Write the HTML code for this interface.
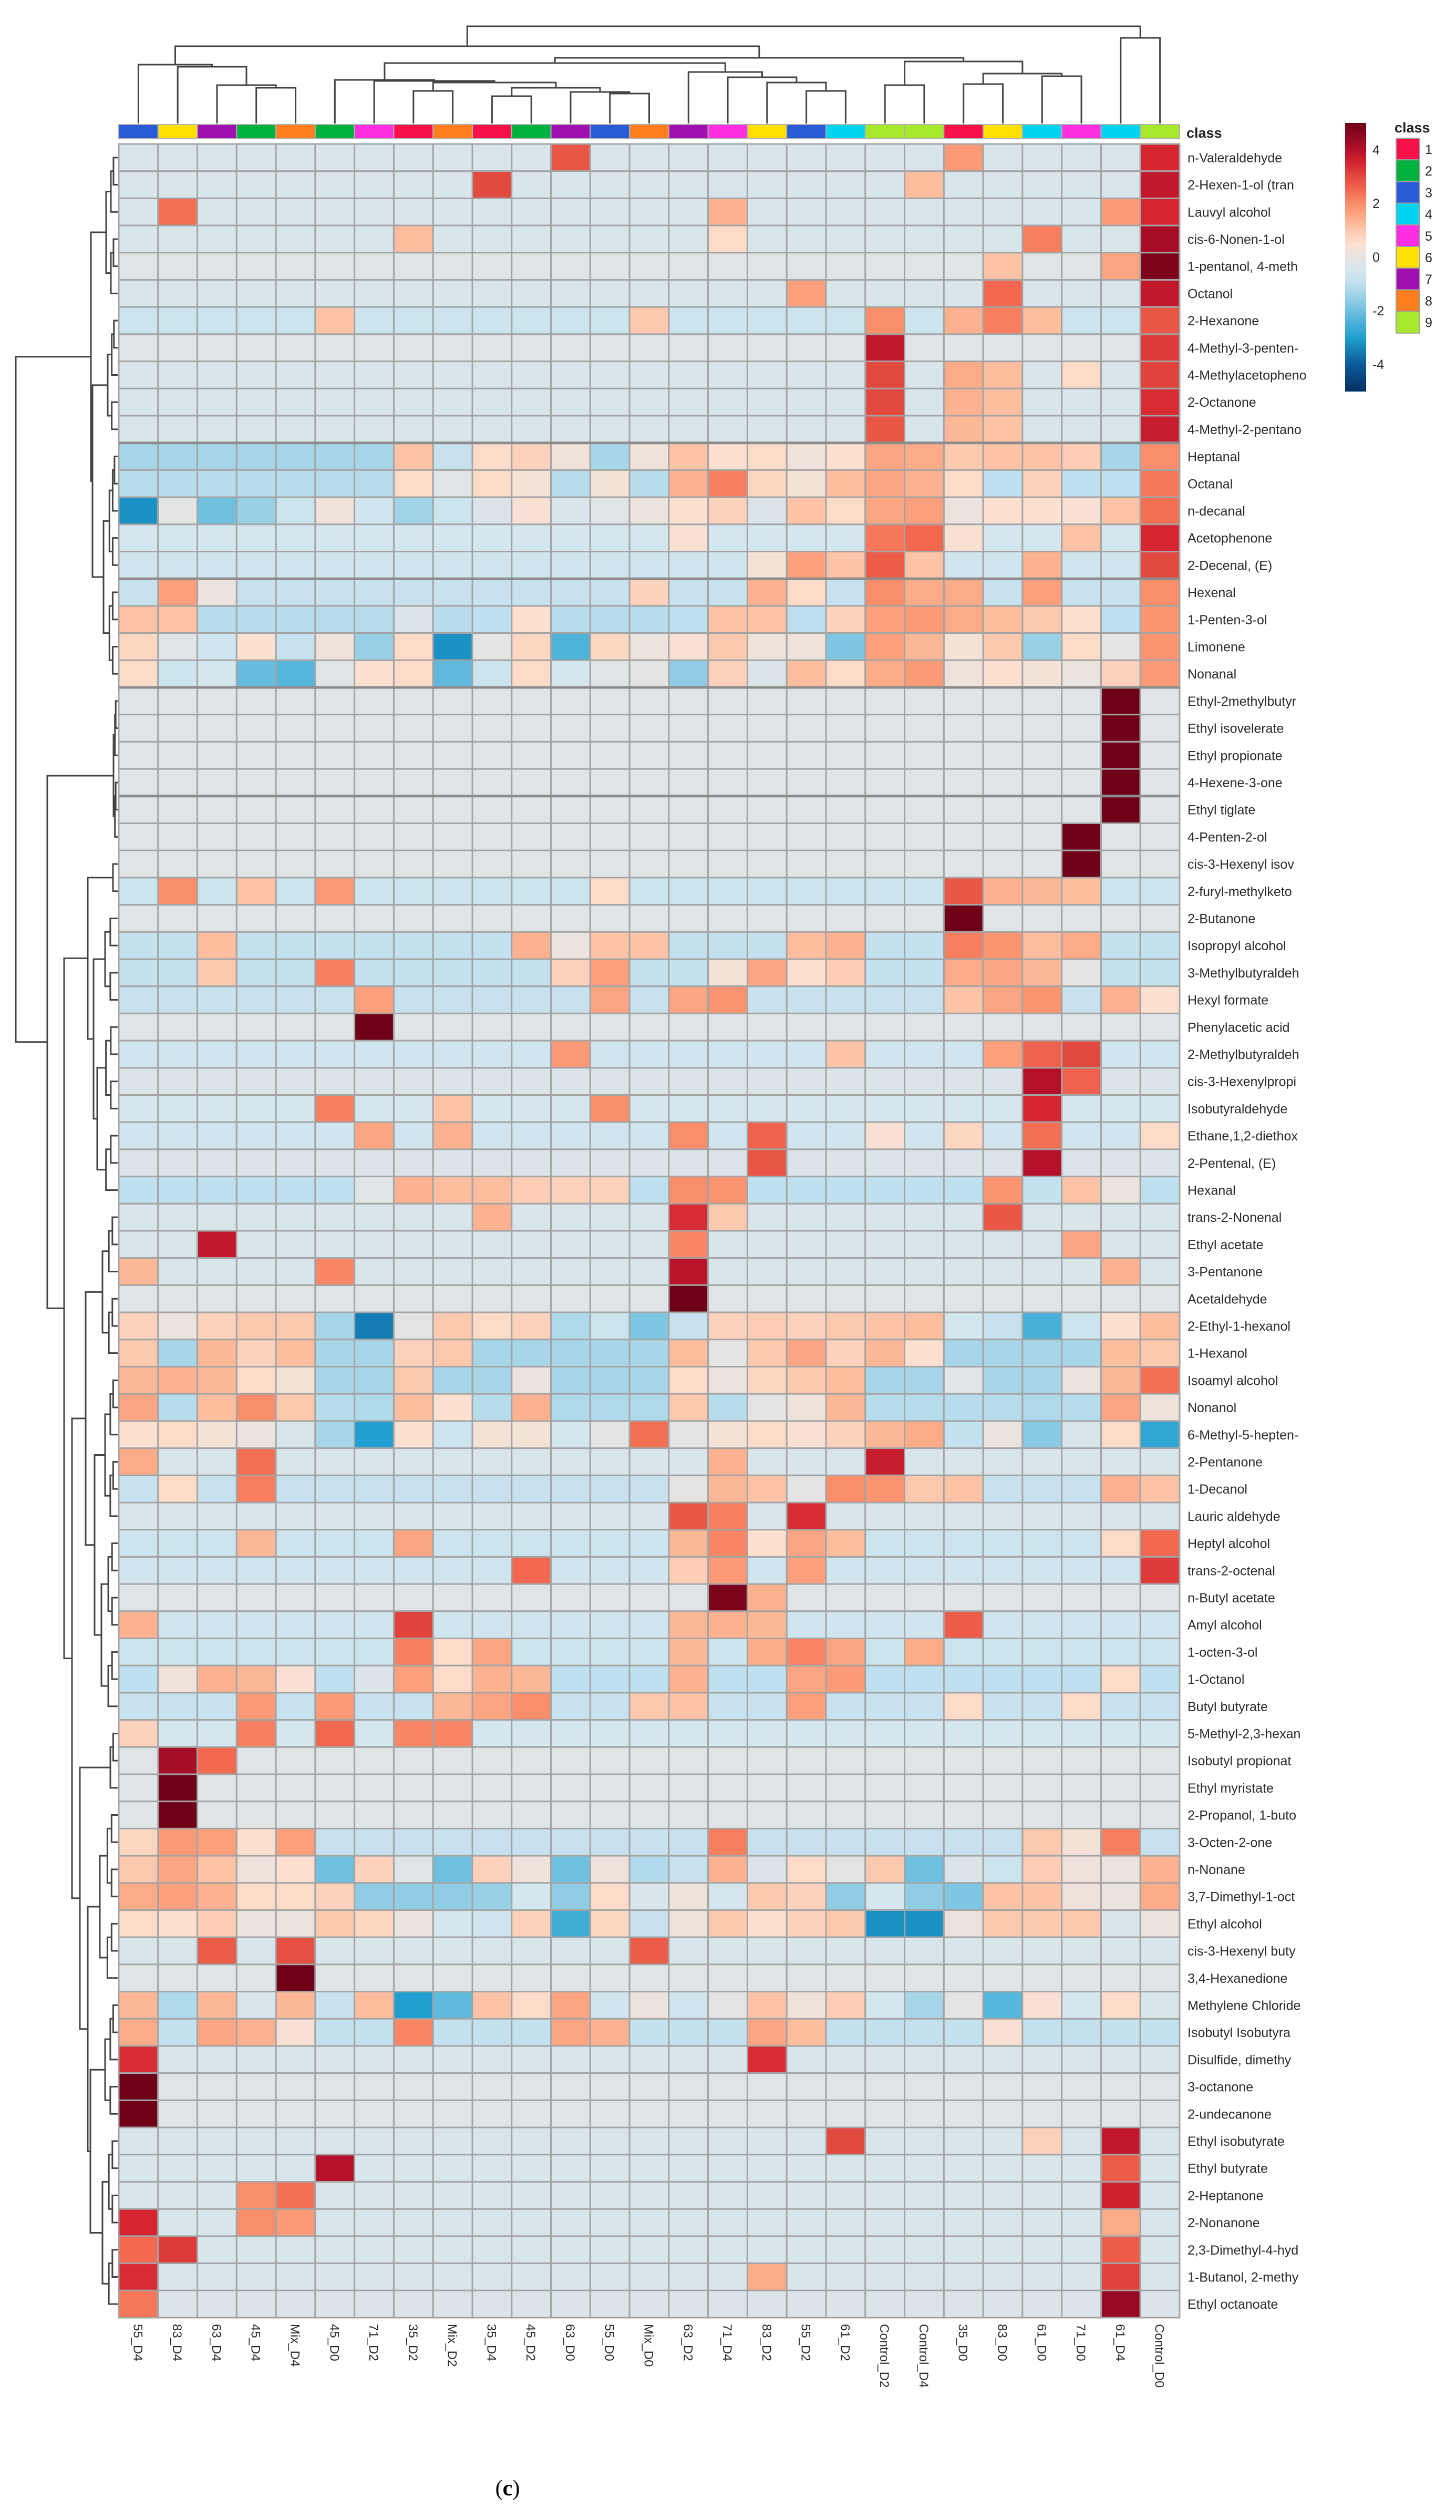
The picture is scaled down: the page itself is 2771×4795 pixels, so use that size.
<!DOCTYPE html>
<html><head><meta charset="utf-8"><title>Heatmap</title>
<style>html,body{margin:0;padding:0;background:#fff}svg{display:block}</style></head>
<body>
<svg id="chart" xmlns="http://www.w3.org/2000/svg" width="2771" height="4795" viewBox="0 0 2771 4795" font-family="Liberation Sans, sans-serif">
<defs><linearGradient id="cbar" x1="0" y1="0" x2="0" y2="1"></linearGradient></defs>
<g id="dendro-top"></g>
<g id="dendro-left"></g>
<g id="classbar"></g>
<g id="cells"></g>
<g id="rowlabels"></g>
<g id="collabels"></g>
<g id="legend"></g>
<text x="966" y="4748" font-family="Liberation Serif, serif" font-size="42" text-anchor="middle">(<tspan font-weight="bold">c</tspan>)</text>
</svg>
<script>
const columns = ["55_D4","83_D4","63_D4","45_D4","Mix_D4","45_D0","71_D2","35_D2","Mix_D2","35_D4","45_D2","63_D0","55_D0","Mix_D0","63_D2","71_D4","83_D2","55_D2","61_D2","Control_D2","Control_D4","35_D0","83_D0","61_D0","71_D0","61_D4","Control_D0"];
const columnClasses = [3,6,7,2,8,2,5,1,8,1,2,7,3,8,7,5,6,3,4,9,9,1,6,4,5,4,9];
const classColors = ["#f7104a","#00b140","#2a5bd7","#00d4f0","#ff2ee0","#ffe000","#a010b0","#ff7f1e","#a8e82a"];
const classLabels = ["1","2","3","4","5","6","7","8","9"];
const colorbarTicks = [4,2,0,-2,-4];
const rowNames = ["n-Valeraldehyde","2-Hexen-1-ol (tran","Lauvyl alcohol","cis-6-Nonen-1-ol","1-pentanol, 4-meth","Octanol","2-Hexanone","4-Methyl-3-penten-","4-Methylacetopheno","2-Octanone","4-Methyl-2-pentano","Heptanal","Octanal","n-decanal","Acetophenone","2-Decenal, (E)","Hexenal","1-Penten-3-ol","Limonene","Nonanal","Ethyl-2methylbutyr","Ethyl isovelerate","Ethyl propionate","4-Hexene-3-one","Ethyl tiglate","4-Penten-2-ol","cis-3-Hexenyl isov","2-furyl-methylketo","2-Butanone","Isopropyl alcohol","3-Methylbutyraldeh","Hexyl formate","Phenylacetic acid","2-Methylbutyraldeh","cis-3-Hexenylpropi","Isobutyraldehyde","Ethane,1,2-diethox","2-Pentenal, (E)","Hexanal","trans-2-Nonenal","Ethyl acetate","3-Pentanone","Acetaldehyde","2-Ethyl-1-hexanol","1-Hexanol","Isoamyl alcohol","Nonanol","6-Methyl-5-hepten-","2-Pentanone","1-Decanol","Lauric aldehyde","Heptyl alcohol","trans-2-octenal","n-Butyl acetate","Amyl alcohol","1-octen-3-ol","1-Octanol","Butyl butyrate","5-Methyl-2,3-hexan","Isobutyl propionat","Ethyl myristate","2-Propanol, 1-buto","3-Octen-2-one","n-Nonane","3,7-Dimethyl-1-oct","Ethyl alcohol","cis-3-Hexenyl buty","3,4-Hexanedione","Methylene Chloride","Isobutyl Isobutyra","Disulfide, dimethy","3-octanone","2-undecanone","Ethyl isobutyrate","Ethyl butyrate","2-Heptanone","2-Nonanone","2,3-Dimethyl-4-hyd","1-Butanol, 2-methy","Ethyl octanoate"];

const r1=[-.4,-.4,-.4,-.4,-.4,-.4,-.4,-.4,-.4, -.4,-.4,2.8,-.4,-.4,-.4,-.4,-.4,-.4, -.4,-.4,-.4,1.8,-.4,-.4,-.4,-.4,3.5];
const r2=[-.4,-.4,-.4,-.4,-.4,-.4,-.4,-.4,-.4, 3,-.4,-.4,-.4,-.4,-.4,-.4,-.4,-.4, -.4,-.4,1.2,-.4,-.4,-.4,-.4,-.4,3.8];
const r3=[-.4,2.4,-.4,-.4,-.4,-.4,-.4,-.4,-.4, -.4,-.4,-.4,-.4,-.4,-.4,1.4,-.4,-.4, -.4,-.4,-.4,-.4,-.4,-.4,-.4,1.8,3.5];
const r4=[-.4,-.4,-.4,-.4,-.4,-.4,-.4,1.2,-.4, -.4,-.4,-.4,-.4,-.4,-.4,.6,-.4,-.4, -.4,-.4,-.4,-.4,-.4,2.2,-.4,-.4,4.2];
const r5=[-.2,-.2,-.2,-.2,-.2,-.2,-.2,-.2,-.2, -.2,-.2,-.2,-.2,-.2,-.2,-.2,-.2,-.2, -.2,-.2,-.2,-.2,1.1,-.2,-.2,1.6,4.8];
const r6=[-.4,-.4,-.4,-.4,-.4,-.4,-.4,-.4,-.4, -.4,-.4,-.4,-.4,-.4,-.4,-.4,-.4,1.7, -.4,-.4,-.4,-.4,2.5,-.4,-.4,-.4,3.8];
const r7=[-.7,-.7,-.7,-.7,-.7,1.1,-.7,-.7,-.7, -.7,-.7,-.7,-.7,1,-.7,-.7,-.7,-.7, -.7,2,-.7,1.4,2.2,1.2,-.7,-.7,2.8];
const r8=[-.2,-.2,-.2,-.2,-.2,-.2,-.2,-.2,-.2, -.2,-.2,-.2,-.2,-.2,-.2,-.2,-.2,-.2, -.2,3.8,-.2,-.2,-.2,-.2,-.2,-.2,3.2];
const r9=[-.4,-.4,-.4,-.4,-.4,-.4,-.4,-.4,-.4, -.4,-.4,-.4,-.4,-.4,-.4,-.4,-.4,-.4, -.4,3,-.4,1.5,1.2,-.4,.6,-.4,3.1];
const r10=[-.4,-.4,-.4,-.4,-.4,-.4,-.4,-.4,-.4, -.4,-.4,-.4,-.4,-.4,-.4,-.4,-.4,-.4, -.4,3,-.4,1.4,1.2,-.4,-.4,-.4,3.4];
const r11=[-.4,-.4,-.4,-.4,-.4,-.4,-.4,-.4,-.4, -.4,-.4,-.4,-.4,-.4,-.4,-.4,-.4,-.4, -.4,2.8,-.4,1.3,1.1,-.4,-.4,-.4,3.7];
const r12=[-1.3,-1.3,-1.3,-1.3,-1.3,-1.3,-1.3,1.1,-.8, .6,.8,.2,-1.3,.2,1.1,.5,.6,.2, .5,1.6,1.5,1,1.1,1.1,.9,-1.3,2];
const r13=[-1.1,-1.1,-1.1,-1.1,-1.1,-1.1,-1.1,.6,-.2, .6,.3,-1.1,.3,-1.1,1.4,2.2,.7,.3, 1.2,1.6,1.4,.6,-1,.8,-1,-1,2.3];
const r14=[-3.2,-.1,-2,-1.5,-.7,.2,-.6,-1.4,-.7, -.3,.4,-.4,-.2,.1,.5,.8,-.3,1.1, .6,1.6,1.7,.1,.5,.5,.4,1.1,2.4];
const r15=[-.5,-.5,-.5,-.5,-.5,-.5,-.5,-.5,-.5, -.5,-.5,-.5,-.5,-.5,.4,-.5,-.5,-.5, -.5,2.3,2.5,.4,-.5,-.5,1.1,-.5,3.5];
const r16=[-.6,-.6,-.6,-.6,-.6,-.6,-.6,-.6,-.6, -.6,-.6,-.6,-.6,-.6,-.6,-.6,.3,1.7, 1.1,2.7,1.1,-.6,-.6,1.4,-.6,-.6,3];
const r17=[-.8,1.7,.1,-.8,-.8,-.8,-.8,-.8,-.8, -.8,-.8,-.8,-.8,.8,-.8,-.8,1.4,.6, -.8,2,1.5,1.5,-.8,1.7,-.8,-.8,2];
const r18=[1.1,1.1,-1.1,-1.1,-1.1,-1.1,-1.1,-.3,-1.1, -1,.5,-1.1,-1.1,-1.1,-1,1.1,1.1,-1, .8,1.7,1.8,1.5,1.2,1,.5,-1,1.9];
const r19=[.7,-.2,-.6,.5,-.8,.2,-1.5,.6,-3.2, 0,.7,-2.4,.7,.1,.4,1,.2,.2, -1.8,1.7,1.3,.3,1,-1.5,.6,0,1.9];
const r20=[.6,-.7,-.5,-2.1,-2.3,-.2,.5,.6,-2.2, -.7,.6,-.5,-.2,0,-1.6,.8,-.3,1.2, .6,1.5,1.8,.2,.5,.3,.1,.8,1.8];
const r21=[-.2,-.2,-.2,-.2,-.2,-.2,-.2,-.2,-.2, -.2,-.2,-.2,-.2,-.2,-.2,-.2,-.2,-.2, -.2,-.2,-.2,-.2,-.2,-.2,-.2,5,-.2];
const r22=[-.2,-.2,-.2,-.2,-.2,-.2,-.2,-.2,-.2, -.2,-.2,-.2,-.2,-.2,-.2,-.2,-.2,-.2, -.2,-.2,-.2,-.2,-.2,-.2,-.2,5,-.2];
const r23=[-.2,-.2,-.2,-.2,-.2,-.2,-.2,-.2,-.2, -.2,-.2,-.2,-.2,-.2,-.2,-.2,-.2,-.2, -.2,-.2,-.2,-.2,-.2,-.2,-.2,5,-.2];
const r24=[-.2,-.2,-.2,-.2,-.2,-.2,-.2,-.2,-.2, -.2,-.2,-.2,-.2,-.2,-.2,-.2,-.2,-.2, -.2,-.2,-.2,-.2,-.2,-.2,-.2,5,-.2];
const r25=[-.2,-.2,-.2,-.2,-.2,-.2,-.2,-.2,-.2, -.2,-.2,-.2,-.2,-.2,-.2,-.2,-.2,-.2, -.2,-.2,-.2,-.2,-.2,-.2,-.2,5,-.2];
const r26=[-.2,-.2,-.2,-.2,-.2,-.2,-.2,-.2,-.2, -.2,-.2,-.2,-.2,-.2,-.2,-.2,-.2,-.2, -.2,-.2,-.2,-.2,-.2,-.2,5,-.2,-.2];
const r27=[-.2,-.2,-.2,-.2,-.2,-.2,-.2,-.2,-.2, -.2,-.2,-.2,-.2,-.2,-.2,-.2,-.2,-.2, -.2,-.2,-.2,-.2,-.2,-.2,5,-.2,-.2];
const r28=[-.7,2,-.7,1.1,-.7,1.8,-.7,-.7,-.7, -.7,-.7,-.7,.6,-.7,-.7,-.7,-.7,-.7, -.7,-.7,-.7,2.8,1.4,1.3,1.2,-.7,-.7];
const r29=[-.2,-.2,-.2,-.2,-.2,-.2,-.2,-.2,-.2, -.2,-.2,-.2,-.2,-.2,-.2,-.2,-.2,-.2, -.2,-.2,-.2,5,-.2,-.2,-.2,-.2,-.2];
const r30=[-.9,-.9,1.2,-.9,-.9,-.9,-.9,-.9,-.9, -.9,1.4,.1,1.1,1.1,-.9,-.9,-.9,1.2, 1.4,-.9,-.9,2.2,1.9,1.2,1.5,-.9,-.9];
const r31=[-.9,-.9,1,-.9,-.9,2.2,-.9,-.9,-.9, -.9,-.9,.8,1.7,-.9,-.9,.3,1.6,.5, .9,-.9,-.9,1.5,1.6,1.3,0,-.9,-.9];
const r32=[-.8,-.8,-.8,-.8,-.8,-.8,1.7,-.8,-.8, -.8,-.8,-.8,1.6,-.8,1.6,1.9,-.8,-.8, -.8,-.8,-.8,1.1,1.6,1.9,-.8,1.4,.5];
const r33=[-.2,-.2,-.2,-.2,-.2,-.2,5,-.2,-.2, -.2,-.2,-.2,-.2,-.2,-.2,-.2,-.2,-.2, -.2,-.2,-.2,-.2,-.2,-.2,-.2,-.2,-.2];
const r34=[-.6,-.6,-.6,-.6,-.6,-.6,-.6,-.6,-.6, -.6,-.6,1.8,-.6,-.6,-.6,-.6,-.6,-.6, 1.1,-.6,-.6,-.6,1.7,2.6,3,-.6,-.6];
const r35=[-.3,-.3,-.3,-.3,-.3,-.3,-.3,-.3,-.3, -.3,-.3,-.3,-.3,-.3,-.3,-.3,-.3,-.3, -.3,-.3,-.3,-.3,-.3,4,2.6,-.3,-.3];
const r36=[-.5,-.5,-.5,-.5,-.5,2.2,-.5,-.5,1.1, -.5,-.5,-.5,2,-.5,-.5,-.5,-.5,-.5, -.5,-.5,-.5,-.5,-.5,3.5,-.5,-.5,-.5];
const r37=[-.6,-.6,-.6,-.6,-.6,-.6,1.6,-.6,1.4, -.6,-.6,-.6,-.6,-.6,2,-.6,2.6,-.6, -.6,.4,-.6,.7,-.6,2.4,-.6,-.6,.6];
const r38=[-.3,-.3,-.3,-.3,-.3,-.3,-.3,-.3,-.3, -.3,-.3,-.3,-.3,-.3,-.3,-.3,2.8,-.3, -.3,-.3,-.3,-.3,-.3,4,-.3,-.3,-.3];
const r39=[-1,-1,-1,-1,-1,-1,-.2,1.4,1.2, 1.2,.9,.8,.8,-1,2,1.9,-1,-1, -1,-1,-1,-1,1.9,-.9,1.1,.1,-1];
const r40=[-.4,-.4,-.4,-.4,-.4,-.4,-.4,-.4,-.4, 1.4,-.4,-.4,-.4,-.4,3.4,1,-.4,-.4, -.4,-.4,-.4,-.4,2.8,-.4,-.4,-.4,-.4];
const r41=[-.4,-.4,3.8,-.4,-.4,-.4,-.4,-.4,-.4, -.4,-.4,-.4,-.4,-.4,2.1,-.4,-.4,-.4, -.4,-.4,-.4,-.4,-.4,-.4,1.6,-.4,-.4];
const r42=[1.3,-.4,-.4,-.4,-.4,2.1,-.4,-.4,-.4, -.4,-.4,-.4,-.4,-.4,3.9,-.4,-.4,-.4, -.4,-.4,-.4,-.4,-.4,-.4,-.4,1.4,-.4];
const r43=[-.2,-.2,-.2,-.2,-.2,-.2,-.2,-.2,-.2, -.2,-.2,-.2,-.2,-.2,5,-.2,-.2,-.2, -.2,-.2,-.2,-.2,-.2,-.2,-.2,-.2,-.2];
const r44=[.8,.1,.8,1,1,-1.3,-3.5,-.1,1, .6,.8,-1.2,-.7,-1.8,-.8,.8,.9,.8, 1,1.1,1.2,-.5,-.8,-2.5,-.7,.5,1.2];
const r45=[1,-1.3,1.3,.8,1.2,-1.3,-1.3,.8,1, -1.3,-1.3,-1.3,-1.3,-1.3,1.2,0,1,1.6, .8,1.3,.5,-1.3,-1.3,-1.3,-1.3,1.2,1];
const r46=[1.3,1.4,1.3,.6,.3,-1.3,-1.3,1,-1.3, -1.3,.1,-1.3,-1.3,-1.3,.6,.1,.7,1, 1.2,-1.3,-1.3,-.2,-1.3,-1.3,.1,1.3,2.4];
const r47=[1.6,-1.1,1.2,2,1,-1.1,-1.2,1.2,.5, -1.1,1.4,-1.2,-1.2,-1.2,1,-1.1,0,.2, 1.3,-1.1,-1.1,-1.1,-1.1,-1.2,-1.1,1.6,.2];
const r48=[.5,.6,.3,.1,-.4,-1.3,-3,.5,-.7, .3,.3,-.5,-.1,2.4,-.1,.3,.6,.4, .8,1.3,1.5,-.9,.1,-1.7,-.4,.6,-2.8];
const r49=[1.5,-.4,-.4,2.4,-.4,-.4,-.4,-.4,-.4, -.4,-.4,-.4,-.4,-.4,-.4,1.4,-.4,-.4, -.4,3.7,-.4,-.4,-.4,-.4,-.4,-.4,-.4];
const r50=[-.8,.6,-.8,2.2,-.8,-.8,-.8,-.8,-.8, -.8,-.8,-.8,-.8,-.8,0,1.3,1.1,0, 2,1.9,1,1.1,-.8,-.8,-.8,1.4,1.1];
const r51=[-.4,-.4,-.4,-.4,-.4,-.4,-.4,-.4,-.4, -.4,-.4,-.4,-.4,-.4,2.8,2.2,-.4,3.4, -.4,-.4,-.4,-.4,-.4,-.4,-.4,-.4,-.4];
const r52=[-.7,-.7,-.7,1.3,-.7,-.7,-.7,1.6,-.7, -.7,-.7,-.7,-.7,-.7,1.3,2.1,.5,1.6, 1.2,-.7,-.7,-.7,-.7,-.7,-.7,.6,2.5];
const r53=[-.6,-.6,-.6,-.6,-.6,-.6,-.6,-.6,-.6, -.6,2.5,-.6,-.6,-.6,.9,1.8,-.6,1.7, -.6,-.6,-.6,-.6,-.6,-.6,-.6,-.6,3.2];
const r54=[-.2,-.2,-.2,-.2,-.2,-.2,-.2,-.2,-.2, -.2,-.2,-.2,-.2,-.2,-.2,4.8,1.4,-.2, -.2,-.2,-.2,-.2,-.2,-.2,-.2,-.2,-.2];
const r55=[1.4,-.6,-.6,-.6,-.6,-.6,-.6,3.1,-.6, -.6,-.6,-.6,-.6,-.6,1.3,1.4,1.3,-.6, -.6,-.6,-.6,2.7,-.6,-.6,-.6,-.6,-.6];
const r56=[-.7,-.7,-.7,-.7,-.7,-.7,-.7,2.2,.6, 1.6,-.7,-.7,-.7,-.7,1.3,-.7,1.5,2.1, 1.6,-.7,1.5,-.7,-.7,-.7,-.7,-.7,-.7];
const r57=[-1,.2,1.4,1.3,.4,-1,-.3,1.7,.6, 1.4,1.3,-1,-1,-1,1.4,-1,-1,1.6, 1.8,-1,-1,-1,-1,-1,-1,.6,-1];
const r58=[-.8,-.8,-.8,1.8,-.8,1.8,-.8,-.8,1.3, 1.6,2,-.8,-.8,1,1.1,-.8,-.8,1.7, -.8,-.8,-.8,.6,-.8,-.8,.6,-.8,-.8];
const r59=[.8,-.5,-.5,2.2,-.5,2.5,-.5,2.1,2.1, -.5,-.5,-.5,-.5,-.5,-.5,-.5,-.5,-.5, -.5,-.5,-.5,-.5,-.5,-.5,-.5,-.5,-.5];
const r60=[-.2,4.2,2.5,-.2,-.2,-.2,-.2,-.2,-.2, -.2,-.2,-.2,-.2,-.2,-.2,-.2,-.2,-.2, -.2,-.2,-.2,-.2,-.2,-.2,-.2,-.2,-.2];
const r61=[-.2,5,-.2,-.2,-.2,-.2,-.2,-.2,-.2, -.2,-.2,-.2,-.2,-.2,-.2,-.2,-.2,-.2, -.2,-.2,-.2,-.2,-.2,-.2,-.2,-.2,-.2];
const r62=[-.2,5,-.2,-.2,-.2,-.2,-.2,-.2,-.2, -.2,-.2,-.2,-.2,-.2,-.2,-.2,-.2,-.2, -.2,-.2,-.2,-.2,-.2,-.2,-.2,-.2,-.2];
const r63=[.7,1.8,1.7,.5,1.7,-.8,-.8,-.8,-.8, -.8,-.8,-.8,-.8,-.8,-.8,2.2,-.8,-.8, -.8,-.8,-.8,-.8,-.8,1,.3,2.2,-.8];
const r64=[1,1.6,1.1,.2,.5,-2,.8,-.2,-2, .8,.2,-2,.2,-1.2,-.8,1.4,-.3,.6, -.1,1,-2,-.3,-.7,.9,.2,.1,1.4];
const r65=[1.5,1.7,1.4,.6,.6,.8,-1.6,-1.6,-1.6, -1.5,-.5,-1.6,.6,-.4,.2,-.5,1,.8, -1.6,-.5,-1.6,-1.8,1.1,1.1,.2,.1,1.5];
const r66=[.6,.5,.9,.1,.1,1,.7,.1,-.5, -.6,.8,-2.6,.7,-.8,.2,1,.5,.8, 1,-3.2,-3.2,.1,1,1,1,-.4,.1];
const r67=[-.4,-.4,2.7,-.4,2.9,-.4,-.4,-.4,-.4, -.4,-.4,-.4,-.4,2.7,-.4,-.4,-.4,-.4, -.4,-.4,-.4,-.4,-.4,-.4,-.4,-.4,-.4];
const r68=[-.2,-.2,-.2,-.2,5,-.2,-.2,-.2,-.2, -.2,-.2,-.2,-.2,-.2,-.2,-.2,-.2,-.2, -.2,-.2,-.2,-.2,-.2,-.2,-.2,-.2,-.2];
const r69=[1.3,-1.2,1.3,-.4,1.3,-.8,1.2,-3,-2.2, 1.1,.6,1.6,-.6,.1,-.6,-.1,1.1,.2, .9,-.5,-1.3,0,-2.3,.4,-.5,.6,-.4];
const r70=[1.5,-.9,1.6,1.4,.4,-.9,-.9,2.1,-.9, -.9,-.9,1.6,1.4,-.9,-.9,-.9,1.6,1.2, -.9,-.9,-.9,-.9,.4,-.9,-.9,-.9,-.9];
const r71=[3.4,-.4,-.4,-.4,-.4,-.4,-.4,-.4,-.4, -.4,-.4,-.4,-.4,-.4,-.4,-.4,3.4,-.4, -.4,-.4,-.4,-.4,-.4,-.4,-.4,-.4,-.4];
const r72=[5,-.2,-.2,-.2,-.2,-.2,-.2,-.2,-.2, -.2,-.2,-.2,-.2,-.2,-.2,-.2,-.2,-.2, -.2,-.2,-.2,-.2,-.2,-.2,-.2,-.2,-.2];
const r73=[5,-.2,-.2,-.2,-.2,-.2,-.2,-.2,-.2, -.2,-.2,-.2,-.2,-.2,-.2,-.2,-.2,-.2, -.2,-.2,-.2,-.2,-.2,-.2,-.2,-.2,-.2];
const r74=[-.4,-.4,-.4,-.4,-.4,-.4,-.4,-.4,-.4, -.4,-.4,-.4,-.4,-.4,-.4,-.4,-.4,-.4, 3,-.4,-.4,-.4,-.4,.8,-.4,3.8,-.4];
const r75=[-.4,-.4,-.4,-.4,-.4,4,-.4,-.4,-.4, -.4,-.4,-.4,-.4,-.4,-.4,-.4,-.4,-.4, -.4,-.4,-.4,-.4,-.4,-.4,-.4,2.7,-.4];
const r76=[-.4,-.4,-.4,2,2.4,-.4,-.4,-.4,-.4, -.4,-.4,-.4,-.4,-.4,-.4,-.4,-.4,-.4, -.4,-.4,-.4,-.4,-.4,-.4,-.4,3.6,-.4];
const r77=[3.5,-.4,-.4,2,1.8,-.4,-.4,-.4,-.4, -.4,-.4,-.4,-.4,-.4,-.4,-.4,-.4,-.4, -.4,-.4,-.4,-.4,-.4,-.4,-.4,1.5,-.4];
const r78=[2.5,3.2,-.4,-.4,-.4,-.4,-.4,-.4,-.4, -.4,-.4,-.4,-.4,-.4,-.4,-.4,-.4,-.4, -.4,-.4,-.4,-.4,-.4,-.4,-.4,2.7,-.4];
const r79=[3.4,-.4,-.4,-.4,-.4,-.4,-.4,-.4,-.4, -.4,-.4,-.4,-.4,-.4,-.4,-.4,1.5,-.4, -.4,-.4,-.4,-.4,-.4,-.4,-.4,3.1,-.4];
const r80=[2.3,-.3,-.3,-.3,-.3,-.3,-.3,-.3,-.3, -.3,-.3,-.3,-.3,-.3,-.3,-.3,-.3,-.3, -.3,-.3,-.3,-.3,-.3,-.3,-.3,4.4,-.3];
const matrix=[r1,r2,r3,r4,r5,r6,r7,r8,r9,r10,r11,r12,r13,r14,r15,r16,r17,r18,r19,r20,r21,r22,r23,r24,r25,r26,r27,r28,r29,r30,r31,r32,r33,r34,r35,r36,r37,r38,r39,r40,r41,r42,r43,r44,r45,r46,r47,r48,r49,r50,r51,r52,r53,r54,r55,r56,r57,r58,r59,r60,r61,r62,r63,r64,r65,r66,r67,r68,r69,r70,r71,r72,r73,r74,r75,r76,r77,r78,r79,r80];

const NS="http://www.w3.org/2000/svg";
const X0=226, X1=2245, Y0=274, Y1=4410;
const CW=(X1-X0)/columns.length, RH=(Y1-Y0)/rowNames.length;
const xScale=i=>X0+i*CW, yScale=j=>Y0+j*RH;
const cmStops=[[-5,"#053061"],[-4,"#0b5a9a"],[-3,"#1f9fd0"],[-2,"#6fc0e0"],[-1.5,"#98d0e6"],[-1,"#bfe0ee"],[-0.5,"#d4e6ee"],[0,"#e6e4e2"],[0.5,"#fde0d0"],[1,"#fdc9ae"],[1.5,"#fcab88"],[2,"#fb8e6a"],[2.5,"#f26850"],[3,"#e34a3f"],[3.5,"#d42530"],[4,"#b4102a"],[5,"#6e0018"]];
function hex(h){return [1,3,5].map(k=>parseInt(h.substr(k,2),16));}
function color(v){v=Math.max(-5,Math.min(5,v));for(let k=0;k<cmStops.length-1;k++){const a=cmStops[k],b=cmStops[k+1];if(v<=b[0]){const t=(v-a[0])/(b[0]-a[0]);const ca=hex(a[1]),cb=hex(b[1]);return "rgb("+ca.map((c,i)=>Math.round(c+(cb[i]-c)*t)).join(",")+")";}}return cmStops[cmStops.length-1][1];}
function mk(tag,attrs,parent){const e=document.createElementNS(NS,tag);for(const k in attrs)e.setAttribute(k,attrs[k]);parent.appendChild(e);return e;}

// cells
const gC=document.getElementById('cells');
matrix.forEach((row,j)=>{row.forEach((v,i)=>{
  const r=mk('rect',{x:xScale(i),y:yScale(j),width:CW,height:RH,fill:color(v),stroke:'#a4a4a4','stroke-width':3},gC);
  
  
});});
[11,16,20,24].forEach(j=>{const l=mk('line',{x1:X0,x2:X1,y1:yScale(j),y2:yScale(j),stroke:'#8c8c8c','stroke-width':5},gC);

});

// class bar
const gB=document.getElementById('classbar');
columnClasses.forEach((c,i)=>{const r=mk('rect',{x:xScale(i),y:237,width:CW,height:27,fill:classColors[c-1],stroke:'#b0b0b0','stroke-width':2},gB);

});
const ct=mk('text',{x:2258,y:262,'font-size':27,'font-weight':'bold',fill:'#222'},gB);ct.textContent='class';



// row labels
const gR=document.getElementById('rowlabels');
rowNames.forEach((n,j)=>{const t=mk('text',{x:2260,y:yScale(j)+RH/2+9,'font-size':25,fill:'#2a2a2a'},gR);t.textContent=n;

});

// column labels
const gL=document.getElementById('collabels');
columns.forEach((n,i)=>{const cx=xScale(i)+CW/2-9;const t=mk('text',{x:0,y:0,'font-size':24,fill:'#2a2a2a',transform:'translate('+cx+',4422) rotate(90)'},gL);t.textContent=n;

});

// legend: colorbar
const gLg=document.getElementById('legend');
const grad=document.getElementById('cbar');
for(let k=cmStops.length-1;k>=0;k--){mk('stop',{offset:((5-cmStops[k][0])/10*100)+'%','stop-color':cmStops[k][1]},grad);}
const cb=mk('rect',{x:2560,y:234,width:40,height:511,fill:'url(#cbar)'},gLg);


const cbY=v=>489-v*51;
colorbarTicks.forEach(v=>{const t=mk('text',{x:2612,y:cbY(v)+9,'font-size':25,fill:'#2a2a2a'},gLg);t.textContent=String(v);

});
const lt=mk('text',{x:2654,y:252,'font-size':27,'font-weight':'bold',fill:'#222'},gLg);lt.textContent='class';


classLabels.forEach((c,k)=>{const y=263+k*41.2;const r=mk('rect',{x:2657,y:y,width:45,height:41.2,fill:classColors[k],stroke:'#a0a0a0','stroke-width':2},gLg);


const t=mk('text',{x:2712,y:y+30,'font-size':25,fill:'#2a2a2a'},gLg);t.textContent=c;

});

// top dendrogram: [height, left, right]; leaves = column index
const topTree=[50,[88,[123,0,[127,1,[162,2,[167,3,4]]]],[110,[120,[152,5,[154,6,[157,[173,7,8],[167,[183,9,10],[175,11,[178,12,13]]]]]],[137,14,[147,15,[157,16,[173,17,18]]]]],[117,[162,19,20],[140,[160,21,22],[145,23,24]]]]],[72,25,26]];
const gT=document.getElementById('dendro-top');
function drawTop(n){if(typeof n==='number')return {x:xScale(n)+CW/2,y:235};
 const a=drawTop(n[1]),b=drawTop(n[2]),h=n[0];
 const p=mk('path',{d:`M${a.x},${a.y}V${h}H${b.x}V${b.y}`,fill:'none',stroke:'#444','stroke-width':3},gT);
 
 
 return {x:(a.x+b.x)/2,y:h};}
drawTop(topTree);

// left dendrogram
function block(a,b,h){if(a===b)return a;const m=Math.floor((a+b)/2);const ch=h+(222-h)*0.45;return [h,block(a,m,ch),block(m+1,b,ch)];}
const leftTree=[30,
 [173,block(0,5,202),[176,block(6,10,205),block(11,19,197)]],
 [90,block(20,25,216),
  [122,[167,block(26,27,215),[178,block(28,31,200),block(32,38,185)]],
   [137,[163,block(39,44,195),[180,block(45,50,200),block(51,57,193)]],
    [152,block(58,60,210),[167,block(61,67,190),[172,block(68,72,200),block(73,79,195)]]]]]]];
const gD=document.getElementById('dendro-left');
function drawLeft(n){if(typeof n==='number')return {x:224,y:yScale(n)+RH/2};
 const a=drawLeft(n[1]),b=drawLeft(n[2]),h=n[0];
 const p=mk('path',{d:`M${a.x},${a.y}H${h}V${b.y}H${b.x}`,fill:'none',stroke:'#444','stroke-width':3},gD);
 
 
 return {x:h,y:(a.y+b.y)/2};}
drawLeft(leftTree);
</script>
</body></html>
